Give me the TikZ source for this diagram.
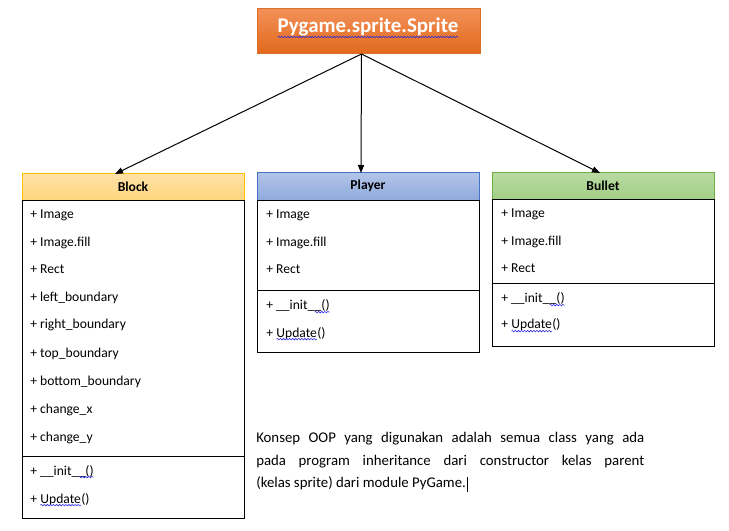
\documentclass[tikz,border=0pt]{standalone}
\usepackage{fontspec}
\setmainfont{Carlito}
\usetikzlibrary{arrows.meta,fit,calc,decorations.pathmorphing}
\definecolor{ttltop}{HTML}{F29058}
\definecolor{ttlbot}{HTML}{E2691B}
\definecolor{ttlline}{HTML}{DA6F2C}
\definecolor{blktop}{HTML}{FFE2A6}
\definecolor{blkbot}{HTML}{FFD47C}
\definecolor{blkline}{HTML}{FFC000}
\definecolor{plytop}{HTML}{B2C4E8}
\definecolor{plybot}{HTML}{8EA9DB}
\definecolor{plyline}{HTML}{4472C4}
\definecolor{bultop}{HTML}{B8DAA2}
\definecolor{bulbot}{HTML}{A2CE85}
\definecolor{bulline}{HTML}{70AD47}
\definecolor{spell}{HTML}{2B2BE0}
\tikzset{
  wavy/.style={draw=spell, line width=0.45pt, decorate,
    decoration={snake, amplitude=0.55pt, segment length=2.3pt}},
  boxpart/.style={inner sep=0pt, outer sep=0pt, line width=0.75pt},
  bodypart/.style={boxpart, draw=black, fill=white},
  item/.style={inner sep=0pt, anchor=base west, font=\fontsize{10.2}{12}\selectfont},
  headtext/.style={inner sep=0pt, anchor=base, font=\fontsize{10.2}{12}\selectfont\bfseries},
  inherit/.style={line width=0.75pt, -{Triangle[length=6pt,width=4.6pt]}}
}
\newcommand\wv[2][1.6pt]{\tikz[baseline=(wvn.base)]{\node[inner sep=0pt,outer sep=0pt](wvn){#2};\draw[wavy] ([yshift=-#1]wvn.base west)--([yshift=-#1]wvn.base east);}}
\begin{document}
\begin{tikzpicture}[x=0.75pt,y=-0.75pt]
\useasboundingbox (0,0) rectangle (729,531);
% title
\node[fit={(257,9)(480,54)}, boxpart, draw=ttlline, top color=ttltop, bottom color=ttlbot] (title) {};
\node[inner sep=0pt, anchor=base, text=white, font=\fontsize{15.7}{18}\selectfont\bfseries] (titletext) at (368,33) {\wv[3pt]{Pygame.sprite.Sprite}};
% Block
\node[fit={(22,174)(244,201)}, boxpart, draw=blkline, top color=blktop, bottom color=blkbot] (blockhead) {};
\node[fit={(22,201)(244,456)}, bodypart] (blockattr) {};
\node[fit={(22,456)(244,518)}, bodypart] (blockmeth) {};
\node[headtext] (blockname) at (133,192) {Block};
\node[item] (b1) at (30,219) {+ Image};
\node[item] (b2) at (30,247) {+ Image.fill};
\node[item] (b3) at (30,274) {+ Rect};
\node[item] (b4) at (30,301) {+ left\_boundary};
\node[item] (b5) at (30,329) {+ right\_boundary};
\node[item] (b6) at (30,357) {+ top\_boundary};
\node[item] (b7) at (30,385) {+ bottom\_boundary};
\node[item] (b8) at (30,413) {+ change\_x};
\node[item] (b9) at (30,441) {+ change\_y};
\node[item] (bm1) at (30,475) {+ \_\_init\_\wv{\_()}};
\node[item] (bm2) at (30,503) {+ \wv{Update}()};
% Player
\node[fit={(257,173)(479,201)}, boxpart, draw=plyline, top color=plytop, bottom color=plybot] (playerhead) {};
\node[fit={(257,201)(479,291)}, bodypart] (playerattr) {};
\node[fit={(257,291)(479,352)}, bodypart] (playermeth) {};
\node[headtext] (playername) at (368,190) {Player};
\node[item] (p1) at (266,219) {+ Image};
\node[item] (p2) at (266,247) {+ Image.fill};
\node[item] (p3) at (266,274) {+ Rect};
\node[item] (pm1) at (266,310) {+ \_\_init\_\wv{\_()}};
\node[item] (pm2) at (266,337) {+ \wv{Update}()};
% Bullet
\node[fit={(492,173)(714,200)}, boxpart, draw=bulline, top color=bultop, bottom color=bulbot] (bullethead) {};
\node[fit={(492,200)(714,284)}, bodypart] (bulletattr) {};
\node[fit={(492,284)(714,346)}, bodypart] (bulletmeth) {};
\node[headtext] (bulletname) at (603,191) {Bullet};
\node[item] (u1) at (501,218) {+ Image};
\node[item] (u2) at (501,246) {+ Image.fill};
\node[item] (u3) at (501,273) {+ Rect};
\node[item] (um1) at (501,303) {+ \_\_init\_\wv{\_()}};
\node[item] (um2) at (501,329) {+ \wv{Update}()};
% connectors
\coordinate (src) at ($(title.south)+(-7,0)$);
\coordinate (tblock) at ($(blockhead.north)+(-18,0)$);
\coordinate (tplayer) at ($(playerhead.north)+(-7,0)$);
\coordinate (tbullet) at ($(bullethead.north)+(-3,0)$);
\draw[inherit] (src) -- (tblock);
\draw[inherit] (src) -- (tplayer);
\draw[inherit] (src) -- (tbullet);
% note
\node[anchor=north west, inner sep=0pt, text width=291pt, align=justify,
  font=\fontsize{11.1}{16.9}\selectfont] (note) at (256,432)
  {Konsep OOP yang digunakan adalah semua class yang ada\linebreak pada program inheritance dari constructor kelas parent\linebreak (kelas sprite) dari module PyGame.\hspace{0.6pt}\rule[-3pt]{0.6pt}{11.25pt}};
\end{tikzpicture}
\end{document}
